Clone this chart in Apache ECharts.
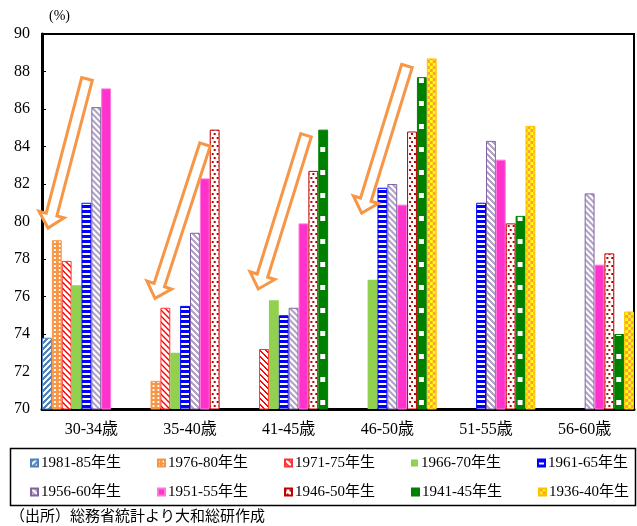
<!DOCTYPE html>
<html>
<head>
<meta charset="utf-8">
<script src="https://cdn.jsdelivr.net/npm/echarts@6/dist/echarts.min.js"></script>
<style>
  html, body { margin: 0; padding: 0; background: #fff; }
  #chart { width: 637px; height: 526px; }
</style>
</head>
<body>
<div id="chart"></div>
<script>
// Labour force participation by age group, per birth cohort (%)
const categories = ['30-34歳', '35-40歳', '41-45歳', '46-50歳', '51-55歳', '56-60歳'];
const cohorts = ['1981-85年生', '1976-80年生', '1971-75年生', '1966-70年生', '1961-65年生',
                 '1956-60年生', '1951-55年生', '1946-50年生', '1941-45年生', '1936-40年生'];

const c1981_85 = [73.8, null, null, null, null, null];
const c1976_80 = [79.0, 71.5, null, null, null, null];
const c1971_75 = [77.9, 75.4, 73.2, null, null, null];
const c1966_70 = [76.6, 73.0, 75.8, 76.9, null, null];
const c1961_65 = [81.0, 75.5, 75.0, 81.8, 81.0, null];
const c1956_60 = [86.1, 79.4, 75.4, 82.0, 84.3, 81.5];
const c1951_55 = [87.1, 82.3, 79.9, 80.9, 83.3, 77.7];
const c1946_50 = [null, 84.9, 82.7, 84.8, 79.9, 78.3];
const c1941_45 = [null, null, 84.9, 87.7, 80.3, 74.0];
const c1936_40 = [null, null, null, 88.7, 85.1, 75.2];

const seriesValues = [c1981_85, c1976_80, c1971_75, c1966_70, c1961_65,
                      c1956_60, c1951_55, c1946_50, c1941_45, c1936_40];

const yTicks = { min: 70, max: 90, step: 2 };

// Annotation arrows: [category position, value] for tail and tip
const arrowTail = [[0.456, 87.6], [1.652, 84.1], [2.676, 84.6], [3.699, 88.3]];
const arrowTip  = [[0.061, 79.65], [1.145, 75.9], [2.192, 76.4], [3.240, 80.45]];

const FONT = "'Liberation Serif', 'Noto Sans CJK JP', serif";
const GRID = { left: 42, top: 34, right: 3, bottom: 117 };
const W = 637;
const catW = (W - GRID.left - GRID.right) / categories.length;
const barW = catW / cohorts.length;

// ---- fill patterns ----
function tile(w, h, draw) {
  const c = document.createElement('canvas');
  c.width = w; c.height = h;
  const g = c.getContext('2d');
  draw(g, w, h);
  return c;
}
function pixels(w, h, bg, fg, test) {
  return tile(w, h, (g) => {
    g.fillStyle = bg; g.fillRect(0, 0, w, h);
    g.fillStyle = fg;
    for (let y = 0; y < h; y++)
      for (let x = 0; x < w; x++)
        if (test(x, y)) g.fillRect(x, y, 1, 1);
  });
}
function pat(img, slot) {
  // scale tiles of width 10 so one period equals one bar slot
  return { image: img, repeat: 'repeat', x: GRID.left + slot * barW, y: 0, scaleX: barW / 10, scaleY: 1 };
}

const upDiag = pixels(6, 6, '#ffffff', '#4f81bd', (x, y) => ((x + y) % 6) < 3);
const orangeGrid = tile(5, 4, (g) => {
  g.fillStyle = '#f79646'; g.fillRect(0, 0, 5, 4);
  g.fillStyle = '#ffffff'; g.fillRect(2, 1, 2, 2);
});
const redDash = pixels(6, 6, '#ffffff', '#ff0000', (x, y) => (((x - y) % 6) + 6) % 6 < 2);
const blueRows = tile(1, 5, (g) => {
  g.fillStyle = '#ffffff'; g.fillRect(0, 0, 1, 5);
  g.fillStyle = '#0000ff'; g.fillRect(0, 0, 1, 3);
});
const lavDiag = pixels(6, 6, '#ffffff', '#b3a2c7', (x, y) => (((x - y) % 6) + 6) % 6 < 3);
const redDots = tile(10, 8, (g) => {
  g.fillStyle = '#ffffff'; g.fillRect(0, 0, 10, 8);
  g.fillStyle = '#c00000';
  g.fillRect(2, 1, 2, 2); g.fillRect(7, 1, 2, 2);
  g.fillRect(4, 5, 2, 2); g.fillRect(9, 5, 1, 2); g.fillRect(0, 5, 1, 2);
});
const greenSquares = tile(10, 23, (g) => {
  g.fillStyle = '#008000'; g.fillRect(0, 0, 10, 23);
  g.fillStyle = '#ffffff'; g.fillRect(2, 9, 5, 5);
});
const checker = pixels(6, 6, '#ffff00', '#f9a03f', (x, y) => ((Math.floor(x / 3) + Math.floor(y / 3)) % 2) === 0);

const styles = [
  { color: pat(upDiag, 0), borderColor: '#4f81bd', borderWidth: 1 },
  { color: pat(orangeGrid, 1), borderColor: '#f79646', borderWidth: 1 },
  { color: pat(redDash, 2), borderColor: '#ff3333', borderWidth: 1 },
  { color: '#92d050', borderWidth: 0 },
  { color: pat(blueRows, 4), borderColor: '#0000ff', borderWidth: 1 },
  { color: pat(lavDiag, 5), borderColor: '#8064a2', borderWidth: 1 },
  { color: '#ff33cc', borderColor: '#ff77dd', borderWidth: 1 },
  { color: pat(redDots, 7), borderColor: '#c00000', borderWidth: 1 },
  { color: pat(greenSquares, 8), borderColor: '#008000', borderWidth: 1 },
  { color: pat(checker, 9), borderColor: '#ffc000', borderWidth: 1 }
];

const series = cohorts.map((name, i) => ({
  name: name,
  type: 'bar',
  data: seriesValues[i],
  barGap: '0%',
  barCategoryGap: '0%',
  itemStyle: styles[i],
  emphasis: { disabled: true },
  animation: false
}));

function legendFor(names, top) {
  return {
    data: names,
    left: 30,
    top: top,
    width: 605,
    orient: 'horizontal',
    itemWidth: 7,
    itemHeight: 7,
    itemGap: 36,
    padding: 0,
    icon: 'rect',
    selectedMode: false,
    textStyle: { fontFamily: FONT, fontSize: 15, color: '#000', lineHeight: 16, padding: [0, 0, 0, -2] }
  };
}

const chart = echarts.init(document.getElementById('chart'), null, { renderer: 'canvas' });

chart.setOption({
  animation: false,
  backgroundColor: '#ffffff',
  grid: {
    left: GRID.left, top: GRID.top, right: GRID.right, bottom: GRID.bottom,
    show: true, borderColor: '#000', borderWidth: 2, backgroundColor: 'transparent'
  },
  legend: [legendFor(cohorts.slice(0, 5), 455), legendFor(cohorts.slice(5), 484)],
  xAxis: {
    type: 'category',
    data: categories,
    axisLine: { lineStyle: { color: '#000', width: 3 } },
    axisTick: { inside: true, length: 4, lineStyle: { color: '#000', width: 1 } },
    axisLabel: { fontFamily: FONT, fontSize: 16, color: '#000', margin: 13 }
  },
  yAxis: {
    type: 'value',
    min: yTicks.min,
    max: yTicks.max,
    interval: yTicks.step,
    splitLine: { show: false },
    axisLine: { show: true, lineStyle: { color: '#000', width: 3 } },
    axisTick: { show: true, inside: true, length: 4, lineStyle: { color: '#000', width: 1 } },
    axisLabel: { fontFamily: FONT, fontSize: 16, color: '#000', margin: 12 }
  },
  series: series
});

// hollow block arrow outline in pixel space
function arrowPoints(T, P) {
  const dx = P[0] - T[0], dy = P[1] - T[1];
  const len = Math.hypot(dx, dy);
  const ux = dx / len, uy = dy / len;
  const nx = -uy, ny = ux;
  const hl = 14, hs = 5.5, hh = 13;
  const B = [P[0] - hl * ux, P[1] - hl * uy];
  return [
    [T[0] + hs * nx, T[1] + hs * ny],
    [B[0] + hs * nx, B[1] + hs * ny],
    [B[0] + hh * nx, B[1] + hh * ny],
    [P[0], P[1]],
    [B[0] - hh * nx, B[1] - hh * ny],
    [B[0] - hs * nx, B[1] - hs * ny],
    [T[0] - hs * nx, T[1] - hs * ny]
  ];
}
function toPx(pt) {
  return [GRID.left + pt[0] * catW, chart.convertToPixel({ yAxisIndex: 0 }, pt[1])];
}

const graphics = [
  {
    type: 'rect', id: 'legendBox', silent: true, z: 0,
    shape: { x: 10.5, y: 448.5, width: 625, height: 57 },
    style: { fill: null, stroke: '#000', lineWidth: 1.5 }
  },
  {
    type: 'text', id: 'unit', silent: true,
    left: 49, top: 9,
    style: { text: '(%)', font: '14px ' + FONT, fill: '#000' }
  },
  {
    type: 'text', id: 'source', silent: true,
    left: 10, top: 510,
    style: { text: '（出所）総務省統計より大和総研作成', font: '15px ' + FONT, fill: '#000' }
  }
];
arrowTail.forEach((t, i) => {
  graphics.push({
    type: 'polygon', id: 'arrow' + i, silent: true, z: 10,
    shape: { points: arrowPoints(toPx(t), toPx(arrowTip[i])) },
    style: { fill: '#ffffff', stroke: '#f79646', lineWidth: 3, lineJoin: 'miter' }
  });
});
chart.setOption({ graphic: graphics });
</script>
</body>
</html>
